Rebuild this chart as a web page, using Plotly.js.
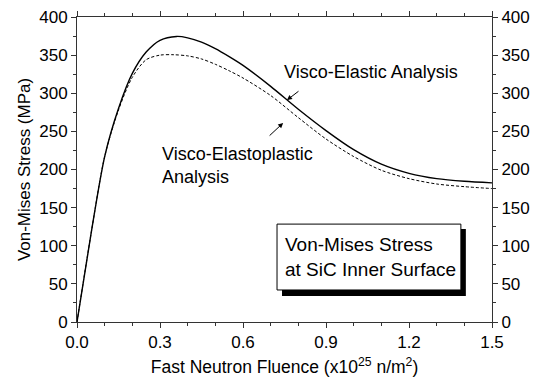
<!DOCTYPE html>
<html>
<head>
<meta charset="utf-8">
<script src="https://cdn.plot.ly/plotly-3.0.1.min.js"></script>
<style>html,body{margin:0;padding:0;background:#fff;}#chart{width:537px;height:381px;}</style>
</head>
<body>
<div id="chart"></div>
<script>
// Fast neutron fluence (x10^25 n/m^2)
const fluenceElastic = [0, 0.05, 0.10, 0.15, 0.20, 0.25, 0.30, 0.36, 0.40, 0.45, 0.50, 0.55, 0.60, 0.70, 0.80, 0.90, 1.00, 1.10, 1.20, 1.30, 1.40, 1.50];
const stressElastic  = [0, 114, 217, 280, 326, 354, 369.5, 374.5, 372.7, 367, 358.5, 348, 336.5, 309, 279, 251, 226, 207, 195, 188, 184.5, 182.5];
const fluencePlastic = [0, 0.05, 0.10, 0.15, 0.20, 0.25, 0.30, 0.35, 0.40, 0.45, 0.50, 0.55, 0.60, 0.70, 0.80, 0.90, 1.00, 1.10, 1.20, 1.30, 1.40, 1.50];
const stressPlastic  = [0, 114, 217, 278, 321, 344, 350, 350.5, 349, 345, 338, 329.5, 320, 297, 268, 240, 217, 199, 188, 181, 177.5, 175];
const xTickVals = [0, 0.3, 0.6, 0.9, 1.2, 1.5];
const xTickText = ['0.0', '0.3', '0.6', '0.9', '1.2', '1.5'];
const yTickVals = [0, 50, 100, 150, 200, 250, 300, 350, 400];

const FONT = '"Liberation Sans", Arial, sans-serif';
const AX = '#333';

const traces = [
  {x: fluenceElastic, y: stressElastic, mode: 'lines', line: {color: '#000', width: 1.4, shape: 'spline', smoothing: 0.8}, showlegend: false, hoverinfo: 'skip'},
  {x: fluencePlastic, y: stressPlastic, mode: 'lines', line: {color: '#000', width: 1, dash: '3px,2px', shape: 'spline', smoothing: 0.8}, showlegend: false, hoverinfo: 'skip'},
  {x: fluenceElastic, y: stressElastic, yaxis: 'y2', mode: 'lines', opacity: 0, line: {width: 0}, showlegend: false, hoverinfo: 'skip'}
];

const layout = {
  width: 537, height: 381,
  margin: {l: 77, r: 45, t: 17, b: 59},
  paper_bgcolor: '#fff', plot_bgcolor: '#fff',
  font: {family: FONT, size: 17, color: '#000'},
  showlegend: false,
  xaxis: {
    range: [0, 1.5], tickvals: xTickVals, ticktext: xTickText,
    ticks: 'outside', ticklen: 5, tickwidth: 1, tickcolor: AX,
    minor: {dtick: 0.1, ticks: 'outside', ticklen: 3, tickcolor: AX, showgrid: false},
    showline: true, linecolor: AX, linewidth: 1, mirror: 'ticks',
    showgrid: false, zeroline: false,
    tickfont: {size: 17, family: FONT},
    title: {text: 'Fast Neutron Fluence (x10<sup>25</sup> n/m<sup>2</sup>)', font: {size: 17.5, family: FONT}, standoff: 9}
  },
  yaxis: {
    range: [0, 400], tickvals: yTickVals,
    ticks: 'outside', ticklen: 5, tickwidth: 1, tickcolor: AX,
    minor: {dtick: 25, ticks: 'outside', ticklen: 3, tickcolor: AX, showgrid: false},
    showline: true, linecolor: AX, linewidth: 1, mirror: false,
    showgrid: false, zeroline: false,
    tickfont: {size: 17, family: FONT},
    title: {text: 'Von-Mises Stress (MPa)', font: {size: 17, family: FONT}, standoff: 4}
  },
  yaxis2: {
    overlaying: 'y', side: 'right', range: [0, 400], tickvals: yTickVals,
    ticks: 'outside', ticklen: 5, tickwidth: 1, tickcolor: AX,
    minor: {dtick: 25, ticks: 'outside', ticklen: 3, tickcolor: AX, showgrid: false},
    showline: true, linecolor: AX, linewidth: 1,
    showgrid: false, zeroline: false,
    tickfont: {size: 17, family: FONT}
  },
  shapes: [
    {type: 'rect', xref: 'paper', yref: 'paper', x0: 0.494, x1: 0.937, y0: 0.085, y1: 0.305, fillcolor: '#000', line: {width: 0}, layer: 'above'},
    {type: 'rect', xref: 'paper', yref: 'paper', x0: 0.482, x1: 0.925, y0: 0.105, y1: 0.321, fillcolor: '#fff', line: {color: '#000', width: 1}, layer: 'above'}
  ],
  annotations: [
    {xref: 'x', yref: 'y', x: 0.741, y: 328, text: 'Visco-Elastic Analysis', showarrow: false, xanchor: 'left', yanchor: 'middle', font: {size: 18, family: FONT}},
    {xref: 'x', yref: 'y', x: 0.300, y: 205, text: 'Visco-Elastoplastic<br>Analysis', showarrow: false, xanchor: 'left', yanchor: 'middle', align: 'left', font: {size: 18, family: FONT}},
    {xref: 'x', yref: 'y', x: 0.759, y: 291, ax: 13, ay: -10, text: '', showarrow: true, arrowhead: 2, arrowsize: 1, arrowwidth: 1, arrowcolor: '#000'},
    {xref: 'x', yref: 'y', x: 0.745, y: 261, ax: -15, ay: 14, text: '', showarrow: true, arrowhead: 2, arrowsize: 1, arrowwidth: 1, arrowcolor: '#000'},
    {xref: 'paper', yref: 'paper', x: 0.497, y: 0.212, text: 'Von-Mises Stress<br>at SiC Inner Surface', showarrow: false, xanchor: 'left', yanchor: 'middle', align: 'left', font: {size: 19, family: FONT}}
  ]
};

Plotly.newPlot('chart', traces, layout, {staticPlot: true, displayModeBar: false});
</script>
</body>
</html>
